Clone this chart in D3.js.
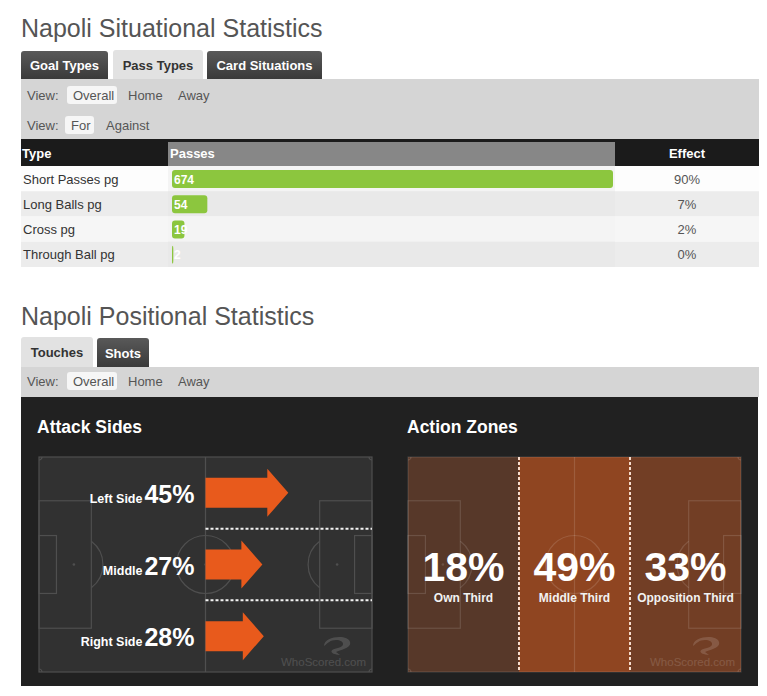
<!DOCTYPE html>
<html>
<head>
<meta charset="utf-8">
<script src="https://cdnjs.cloudflare.com/ajax/libs/d3/7.8.5/d3.min.js"></script>
<style>
  body { margin: 0; background: #fff; }
  svg text { font-family: "Liberation Sans", Arial, sans-serif; }
</style>
</head>
<body>
<div id="chart"></div>
<script>
// Data
const passTypes = ["Short Passes pg", "Long Balls pg", "Cross pg", "Through Ball pg"];
const passValues = [674, 54, 19, 2];
const passEffect = [90, 7, 2, 0];

const attackSides = ["Left Side", "Middle", "Right Side"];
const attackValues = [45, 27, 28];

const zoneLabels = ["Own Third", "Middle Third", "Opposition Third"];
const zoneValues = [18, 49, 33];

const W = 767, H = 696;
const svg = d3.select("#chart").append("svg")
  .attr("width", W)
  .attr("height", H);

const defs = svg.append("defs");
const darkTab = defs.append("linearGradient").attr("id", "darkTab").attr("x2", 0).attr("y2", 1);
darkTab.append("stop").attr("offset", 0).attr("stop-color", "#595959");
darkTab.append("stop").attr("offset", 1).attr("stop-color", "#3a3a3a");

// Tab + filter bar helpers
function tab(x, y, w, h, label, active) {
  svg.append("path")
    .attr("d", `M${x},${y + h} V${y + 3} Q${x},${y} ${x + 3},${y} H${x + w - 3} Q${x + w},${y} ${x + w},${y + 3} V${y + h} Z`)
    .attr("fill", active ? "#e2e2e2" : "url(#darkTab)");
  svg.append("text")
    .attr("x", x + w / 2)
    .attr("y", y + h / 2 + 5)
    .attr("text-anchor", "middle")
    .attr("font-size", 13)
    .attr("font-weight", "bold")
    .attr("fill", active ? "#333" : "#fff")
    .text(label);
}

function viewRow(cy, items, selW) {
  svg.append("text").attr("x", 27).attr("y", cy + 5)
    .attr("font-size", 13).attr("fill", "#555").text("View:");
  svg.append("rect")
    .attr("x", items[0].x - 6).attr("y", cy - 9)
    .attr("width", selW).attr("height", 18)
    .attr("rx", 3)
    .attr("fill", "#f6f6f6");
  items.forEach(it => {
    svg.append("text").attr("x", it.x).attr("y", cy + 5)
      .attr("font-size", 13).attr("fill", "#555").text(it.t);
  });
}

// ---------- Section 1: Situational ----------
svg.append("text")
  .attr("x", 21).attr("y", 37)
  .attr("font-size", 25)
  .attr("fill", "#555")
  .text("Napoli Situational Statistics");

svg.append("rect").attr("x", 21).attr("y", 79).attr("width", 738).attr("height", 60).attr("fill", "#d5d5d5");
tab(21, 51, 87, 28, "Goal Types", false);
tab(113, 50, 90, 29, "Pass Types", true);
tab(207, 51, 115, 28, "Card Situations", false);

viewRow(95, [{ x: 73, t: "Overall" }, { x: 128, t: "Home" }, { x: 178, t: "Away" }], 50);
viewRow(125, [{ x: 71, t: "For" }, { x: 106, t: "Against" }], 29);

// Table
const tableX0 = 21, tableX1 = 759;
const colPass = 168, colEffect = 615;

svg.append("rect").attr("x", tableX0).attr("y", 139).attr("width", tableX1 - tableX0).attr("height", 27).attr("fill", "#1b1b1b");
svg.append("rect").attr("x", colPass).attr("y", 142).attr("width", colEffect - colPass).attr("height", 24).attr("fill", "#878787");
svg.append("text").attr("x", 22).attr("y", 158).attr("font-size", 13).attr("font-weight", "bold").attr("fill", "#fff").text("Type");
svg.append("text").attr("x", 170).attr("y", 158).attr("font-size", 13).attr("font-weight", "bold").attr("fill", "#fff").text("Passes");
svg.append("text").attr("x", 687).attr("y", 158).attr("text-anchor", "middle").attr("font-size", 13).attr("font-weight", "bold").attr("fill", "#fff").text("Effect");

const rowY = d3.scaleBand().domain(passTypes).range([166, 267]);
const barX = d3.scaleLinear().domain([0, d3.max(passValues)]).range([0, 441]);
const rowFill = ["#fdfdfd", "#ececec", "#f6f6f6", "#ececec"];

const rows = svg.append("g").selectAll("g")
  .data(passTypes)
  .join("g")
  .attr("transform", d => `translate(0,${rowY(d)})`);

rows.append("rect")
  .attr("x", tableX0).attr("width", tableX1 - tableX0)
  .attr("height", rowY.bandwidth())
  .attr("fill", (d, i) => rowFill[i]);

rows.append("rect")
  .attr("x", colPass).attr("width", colEffect - colPass)
  .attr("height", rowY.bandwidth())
  .attr("fill", (d, i) => i % 2 ? "#e9e9e9" : "#f4f4f4");

rows.append("text")
  .attr("x", 23).attr("y", rowY.bandwidth() / 2 + 5)
  .attr("font-size", 13).attr("fill", "#333")
  .text(d => d);

rows.append("rect")
  .attr("x", 172).attr("y", 4)
  .attr("width", (d, i) => barX(passValues[i]))
  .attr("height", 18)
  .attr("rx", 3)
  .attr("fill", "#8cc63e");

rows.append("text")
  .attr("x", 174).attr("y", rowY.bandwidth() / 2 + 5)
  .attr("font-size", 12).attr("font-weight", "bold").attr("fill", "#fff")
  .text((d, i) => passValues[i]);

rows.append("text")
  .attr("x", 687).attr("y", rowY.bandwidth() / 2 + 5)
  .attr("text-anchor", "middle")
  .attr("font-size", 13).attr("fill", "#555")
  .text((d, i) => passEffect[i] + "%");

// ---------- Section 2: Positional ----------
svg.append("text")
  .attr("x", 21).attr("y", 325)
  .attr("font-size", 25)
  .attr("fill", "#555")
  .text("Napoli Positional Statistics");

svg.append("rect").attr("x", 21).attr("y", 367).attr("width", 738).attr("height", 30).attr("fill", "#d5d5d5");
tab(21, 337, 72, 30, "Touches", true);
tab(97, 338, 52, 29, "Shots", false);
viewRow(381, [{ x: 73, t: "Overall" }, { x: 128, t: "Home" }, { x: 178, t: "Away" }], 50);

svg.append("rect").attr("x", 21).attr("y", 397).attr("width", 737).attr("height", 289).attr("fill", "#212121");

svg.append("text").attr("x", 37).attr("y", 433).attr("font-size", 17.5).attr("font-weight", "bold").attr("fill", "#fff").text("Attack Sides");
svg.append("text").attr("x", 407).attr("y", 433).attr("font-size", 17.5).attr("font-weight", "bold").attr("fill", "#fff").text("Action Zones");

// Pitch markings
function drawPitch(g, x0, y0, w, h, stroke) {
  const sx = d3.scaleLinear().domain([0, 105]).range([x0, x0 + w]);
  const sy = d3.scaleLinear().domain([0, 68]).range([y0, y0 + h]);
  const k = w / 105;
  const line = g.append("g").attr("fill", "none").attr("stroke", stroke).attr("stroke-width", 1.2);
  line.append("rect").attr("x", x0).attr("y", y0).attr("width", w).attr("height", h);
  line.append("line").attr("x1", sx(52.5)).attr("x2", sx(52.5)).attr("y1", y0).attr("y2", y0 + h);
  line.append("circle").attr("cx", sx(52.5)).attr("cy", sy(34)).attr("r", 9.15 * k);
  [[0, 16.5], [105 - 16.5, 105]].forEach(([a, b]) => {
    line.append("rect").attr("x", sx(a)).attr("y", sy(34 - 20.16)).attr("width", sx(b) - sx(a)).attr("height", sy(34 + 20.16) - sy(34 - 20.16));
  });
  [[0, 5.5], [105 - 5.5, 105]].forEach(([a, b]) => {
    line.append("rect").attr("x", sx(a)).attr("y", sy(34 - 9.16)).attr("width", sx(b) - sx(a)).attr("height", sy(34 + 9.16) - sy(34 - 9.16));
  });
  const ang = Math.acos(5.5 / 9.15);
  const arc = d3.arc().innerRadius(9.15 * k).outerRadius(9.15 * k);
  line.append("path").attr("transform", `translate(${sx(11)},${sy(34)})`)
    .attr("d", arc({ startAngle: Math.PI / 2 - ang, endAngle: Math.PI / 2 + ang }));
  line.append("path").attr("transform", `translate(${sx(94)},${sy(34)})`)
    .attr("d", arc({ startAngle: -Math.PI / 2 - ang, endAngle: -Math.PI / 2 + ang }));
  const corner = d3.arc().innerRadius(3).outerRadius(3);
  [[0, 0, Math.PI / 2], [105, 0, Math.PI], [105, 68, -Math.PI / 2], [0, 68, 0]].forEach(([cx, cy, s]) => {
    line.append("path").attr("transform", `translate(${sx(cx)},${sy(cy)})`)
      .attr("d", corner({ startAngle: s, endAngle: s + Math.PI / 2 }));
  });
  g.append("circle").attr("cx", sx(52.5)).attr("cy", sy(34)).attr("r", 1.3).attr("fill", stroke);
  g.append("circle").attr("cx", sx(11)).attr("cy", sy(34)).attr("r", 1.3).attr("fill", stroke);
  g.append("circle").attr("cx", sx(94)).attr("cy", sy(34)).attr("r", 1.3).attr("fill", stroke);

  // watermark
  const wm = g.append("g").attr("opacity", 0.14);
  wm.append("path")
    .attr("transform", `translate(${x0 + w - 38},${y0 + h - 30})`)
    .attr("d", "M-10,4 C-10,-6 14,-8 16,0 C18,6 6,8 2,10 L6,13 C-4,12 -6,8 4,6 C12,4 10,-2 2,-2 C-4,-2 -6,1 -10,4 Z")
    .attr("fill", "#fff");
  wm.append("text")
    .attr("x", x0 + w - 6).attr("y", y0 + h - 6)
    .attr("text-anchor", "end")
    .attr("font-size", 11.5)
    .attr("fill", "#fff")
    .text("WhoScored.com");
}

// Attack sides pitch
const p1 = { x: 39, y: 457, w: 333, h: 215 };
const g1 = svg.append("g");
g1.append("rect").attr("x", p1.x).attr("y", p1.y).attr("width", p1.w).attr("height", p1.h).attr("fill", "#313131");
drawPitch(g1, p1.x, p1.y, p1.w, p1.h, "#4f4f4f");

const sideY = d3.scaleBand().domain(attackSides).range([p1.y, p1.y + p1.h]);
const arrowLen = d3.scaleLinear().domain([0, 100]).range([18, 162]);
const midX = p1.x + p1.w / 2;

// dotted separators between sides
g1.append("g").selectAll("line")
  .data(attackSides.slice(1))
  .join("line")
  .attr("x1", midX).attr("x2", p1.x + p1.w)
  .attr("y1", d => sideY(d)).attr("y2", d => sideY(d))
  .attr("stroke", "#f2f2f2")
  .attr("stroke-width", 2)
  .attr("stroke-dasharray", "3,2");

g1.append("g").selectAll("path")
  .data(attackSides)
  .join("path")
  .attr("d", (d, i) => {
    const cy = sideY(d) + sideY.bandwidth() / 2;
    const L = arrowLen(attackValues[i]);
    const hb = midX + L - 21;
    return `M${midX},${cy - 15} H${hb} V${cy - 24} L${midX + L},${cy} L${hb},${cy + 24} V${cy + 15} H${midX} Z`;
  })
  .attr("fill", "#e85a1c");

const sideText = g1.append("g").selectAll("text")
  .data(attackSides)
  .join("text")
  .attr("x", midX - 11)
  .attr("y", d => sideY(d) + sideY.bandwidth() / 2 + 10)
  .attr("text-anchor", "end")
  .attr("font-weight", "bold")
  .attr("fill", "#fff");
sideText.append("tspan").attr("font-size", 12.5).text(d => d);
sideText.append("tspan").attr("font-size", 25).attr("dx", 2).text((d, i) => attackValues[i] + "%");

// Action zones pitch
const p2 = { x: 408, y: 457, w: 333, h: 215 };
const g2 = svg.append("g");
const zoneX = d3.scaleBand().domain(zoneLabels).range([p2.x, p2.x + p2.w]);
const zoneColor = d3.scaleLinear().domain([18, 49]).range(["#573829", "#8f4521"]);

g2.append("g").selectAll("rect")
  .data(zoneLabels)
  .join("rect")
  .attr("x", d => zoneX(d)).attr("y", p2.y)
  .attr("width", zoneX.bandwidth()).attr("height", p2.h)
  .attr("fill", (d, i) => zoneColor(zoneValues[i]));

drawPitch(g2, p2.x, p2.y, p2.w, p2.h, "rgba(255,255,255,0.13)");

g2.append("g").selectAll("line")
  .data(zoneLabels.slice(1))
  .join("line")
  .attr("x1", d => zoneX(d)).attr("x2", d => zoneX(d))
  .attr("y1", p2.y).attr("y2", p2.y + p2.h)
  .attr("stroke", "#f6dccd")
  .attr("stroke-width", 2)
  .attr("stroke-dasharray", "3,2");

const zoneG = g2.append("g").selectAll("g")
  .data(zoneLabels)
  .join("g")
  .attr("transform", d => `translate(${zoneX(d) + zoneX.bandwidth() / 2},0)`);

zoneG.append("text")
  .attr("y", 581)
  .attr("text-anchor", "middle")
  .attr("font-size", 41)
  .attr("font-weight", "bold")
  .attr("fill", "#fff")
  .text((d, i) => zoneValues[i] + "%");

zoneG.append("text")
  .attr("y", 602)
  .attr("text-anchor", "middle")
  .attr("font-size", 12)
  .attr("font-weight", "bold")
  .attr("fill", "#f2f2f2")
  .text(d => d);
</script>
</body>
</html>
